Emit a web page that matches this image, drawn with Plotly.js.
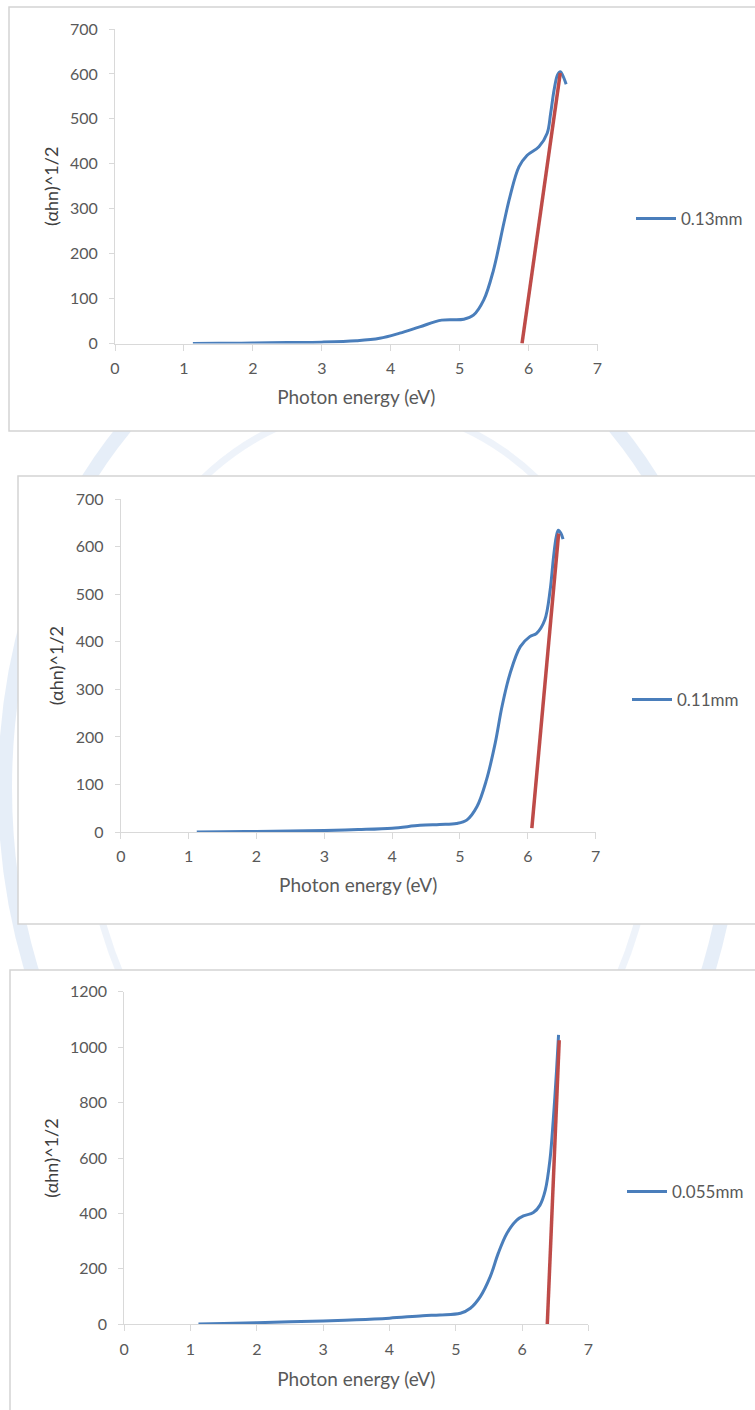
<!DOCTYPE html>
<html>
<head>
<meta charset="utf-8">
<script src="https://cdn.plot.ly/plotly-3.0.1.min.js"></script>
<style>html,body{margin:0;padding:0;background:#fff;}#chart{width:755px;height:1410px;}</style>
</head>
<body>
<div id="chart"></div>
<script>
// ---- data ----
var seriesNames = ["0.13mm", "0.11mm", "0.055mm"];

var energy013 = [1.13, 1.5, 2.0, 2.5, 3.0, 3.5, 3.84, 4.13, 4.42, 4.74, 5.06, 5.20, 5.35, 5.49, 5.64, 5.73, 5.86, 5.98, 6.15, 6.27, 6.32, 6.37, 6.42, 6.46, 6.50, 6.545];
var value013  = [0, 0.5, 1, 2, 3, 6, 11.5, 23, 37, 52, 54, 63, 97, 163, 267, 327, 393, 419, 438, 468, 512, 564, 598, 605, 595, 577];
var fitX013 = [5.905, 6.46];
var fitY013 = [0, 602];

var energy011 = [1.12, 1.5, 2.0, 2.5, 3.0, 3.5, 4.0, 4.41, 4.7, 4.95, 5.10, 5.25, 5.39, 5.52, 5.62, 5.74, 5.89, 6.03, 6.13, 6.25, 6.33, 6.38, 6.42, 6.45, 6.49, 6.52];
var value011  = [0, 0.5, 1, 2, 3, 5, 8, 14, 16, 18, 25, 53, 109, 187, 264, 334, 390, 411, 418, 446, 509, 579, 621, 635, 628, 616];
var fitX011 = [6.06, 6.455];
var fitY011 = [8, 628];

var energy0055 = [1.12, 1.5, 2.0, 2.5, 3.0, 3.5, 4.0, 4.5, 4.76, 5.07, 5.22, 5.37, 5.52, 5.64, 5.77, 5.92, 6.02, 6.17, 6.27, 6.35, 6.42, 6.47, 6.52, 6.55];
var value0055  = [1, 3, 6, 9, 12, 16, 22, 31, 34, 40, 58, 100, 172, 256, 328, 376, 391, 403, 430, 484, 593, 737, 917, 1044];
var fitX0055 = [6.38, 6.56];
var fitY0055 = [0, 1025];

var xTicks = [0, 1, 2, 3, 4, 5, 6, 7];
var yTicks1 = [0, 100, 200, 300, 400, 500, 600, 700];
var yTicks3 = [0, 200, 400, 600, 800, 1000, 1200];
var xTitle = "Photon energy (eV)";
var yTitle = "(αhn)^1/2";

// ---- layout helpers ----
var W = 755, H = 1410;
function px(x) { return x / W; }
function py(y) { return 1 - y / H; }

var BLUE = "#4a7ebb", RED = "#be4b48", GRAY = "#595959", AXC = "#d9d9d9";
var FONT = "Lato, Carlito, 'Liberation Sans', sans-serif";

function blue(x, y, xa, ya, name, leg) {
  return {x: x, y: y, xaxis: xa, yaxis: ya, name: name, type: "scatter", mode: "lines",
          line: {color: BLUE, width: 3, shape: "spline", smoothing: 1}, legend: leg, showlegend: true, hoverinfo: "skip"};
}
function red(x, y, xa, ya) {
  return {x: x, y: y, xaxis: xa, yaxis: ya, type: "scatter", mode: "lines",
          line: {color: RED, width: 3.5}, showlegend: false, hoverinfo: "skip"};
}

var data = [
  blue(energy013, value013, "x", "y", seriesNames[0], "legend"),
  red(fitX013, fitY013, "x", "y"),
  blue(energy011, value011, "x2", "y2", seriesNames[1], "legend2"),
  red(fitX011, fitY011, "x2", "y2"),
  blue(energy0055, value0055, "x3", "y3", seriesNames[2], "legend3"),
  red(fitX0055, fitY0055, "x3", "y3")
];

function xax(x0, x1, anchor, standoff) {
  return {domain: [px(x0), px(x1)], range: [0, 7], anchor: anchor, tickvals: xTicks,
          showgrid: false, zeroline: false, showline: true, linecolor: AXC, linewidth: 1,
          ticks: "outside", ticklen: 6, tickcolor: AXC, tickwidth: 1, ticklabelstandoff: 4,
          tickfont: {family: FONT, size: 16, color: GRAY}, fixedrange: true,
          title: {text: xTitle, font: {family: FONT, size: 19, color: GRAY}, standoff: standoff}};
}
function yax(y0, y1, anchor, range, ticks, standoff) {
  return {domain: [py(y1), py(y0)], range: range, anchor: anchor, tickvals: ticks,
          showgrid: false, zeroline: false, showline: true, linecolor: AXC, linewidth: 1,
          ticks: "outside", ticklen: 5, tickcolor: AXC, tickwidth: 1, ticklabelstandoff: 8,
          tickfont: {family: FONT, size: 16, color: GRAY}, fixedrange: true,
          title: {text: yTitle, font: {family: FONT, size: 18, color: "#404040"}, standoff: standoff}};
}
function legendAt(x, y) {
  return {x: px(x), y: py(y), xanchor: "left", yanchor: "middle", bgcolor: "rgba(0,0,0,0)",
          borderwidth: 0, font: {family: FONT, size: 17, color: GRAY}, itemwidth: 40};
}
function panel(x0, y0, x1, y1) {
  return {type: "rect", xref: "paper", yref: "paper", x0: px(x0), x1: px(x1), y0: py(y1), y1: py(y0),
          fillcolor: "#ffffff", line: {color: "#d4d4d4", width: 1.5}, layer: "below"};
}
function ring(cx, cy, rx, ry, w, c) {
  return {type: "circle", xref: "paper", yref: "paper", x0: px(cx - rx), x1: px(cx + rx), y0: py(cy + ry), y1: py(cy - ry),
          line: {color: c, width: w}, fillcolor: "rgba(0,0,0,0)", layer: "below"};
}

var layout = {
  width: W, height: H, margin: {l: 0, r: 0, t: 0, b: 0},
  paper_bgcolor: "#ffffff", plot_bgcolor: "rgba(0,0,0,0)",
  font: {family: FONT, color: GRAY},
  xaxis: xax(115, 597.5, "y", 14),
  yaxis: yax(29, 343.5, "x", [0, 700], yTicks1, 6),
  xaxis2: xax(120.8, 595.6, "y2", 14),
  yaxis2: yax(499.3, 832, "x2", [0, 700], yTicks1, 7),
  xaxis3: xax(124.2, 588.4, "y3", 16),
  yaxis3: yax(991.7, 1324.3, "x3", [0, 1200], yTicks3, 6),
  legend: legendAt(631, 219),
  legend2: legendAt(627, 700),
  legend3: legendAt(622, 1192),
  shapes: [
    ring(370, 788, 365, 486, 14, "rgba(205,222,242,0.5)"),
    ring(370, 788, 286, 381, 7, "rgba(205,222,242,0.35)"),
    panel(9, 7, 770, 431),
    panel(18, 476, 770, 924),
    panel(10, 970, 770, 1425)
  ]
};

Plotly.newPlot("chart", data, layout, {displayModeBar: false, staticPlot: true});
</script>
</body>
</html>
